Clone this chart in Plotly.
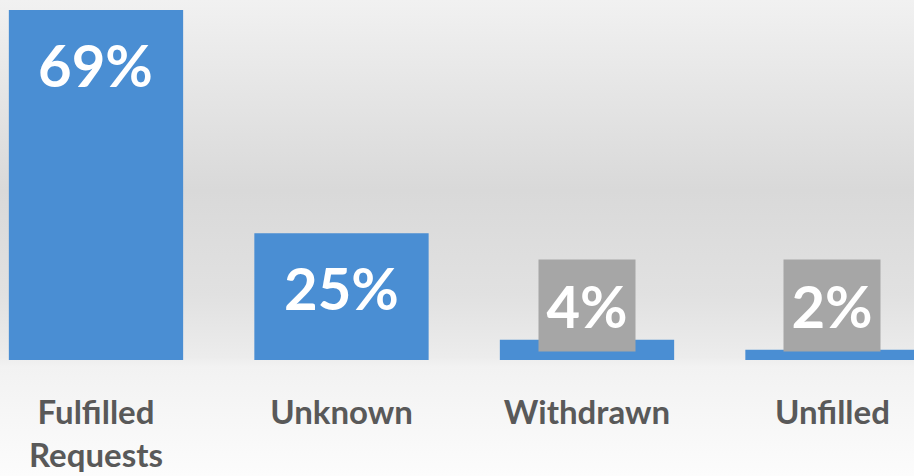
import base64
import plotly.graph_objects as go

# ---- data ----
categories = ["Fulfilled<br>Requests", "Unknown", "Withdrawn", "Unfilled"]
values = [69, 25, 4, 2]
value_labels = ["69%", "25%", "4%", "2%"]

# ---- styling ----
BAR_COLOR = "#4a8ed3"
LABEL_COLOR = "#595959"
BOX_COLOR = "#a6a6a6"
FONT = "Lato"

svg = """<svg xmlns='http://www.w3.org/2000/svg' width='914' height='476' preserveAspectRatio='none'>
<defs><linearGradient id='g' x1='0' y1='0' x2='0' y2='1'>
<stop offset='0' stop-color='#f1f1f1'/>
<stop offset='0.40' stop-color='#d9d9d9'/>
<stop offset='0.62' stop-color='#e1e1e1'/>
<stop offset='0.75' stop-color='#ececec'/>
<stop offset='0.77' stop-color='#f2f2f2'/>
<stop offset='1' stop-color='#fcfcfc'/>
</linearGradient></defs>
<rect width='914' height='476' fill='url(#g)'/></svg>"""
bg_uri = "data:image/svg+xml;base64," + base64.b64encode(svg.encode()).decode()

fig = go.Figure()
fig.add_trace(go.Bar(
    x=categories, y=values,
    marker=dict(color=BAR_COLOR, line=dict(width=0)),
    width=0.71,
    hoverinfo="skip",
))

annotations = []
for cat, v, lab in zip(categories, values, value_labels):
    if v >= 10:
        annotations.append(dict(
            x=cat, y=v, xref="x", yref="y", text=f"<b>{lab}</b>",
            showarrow=False, yanchor="top", yshift=-18,
            font=dict(family=FONT, size=58, color="white"),
        ))
    else:
        annotations.append(dict(
            x=cat, y=0, xref="x", yref="y", text=f"<b>{lab}</b>",
            showarrow=False, yanchor="bottom", yshift=8,
            width=96, height=91, bgcolor=BOX_COLOR, borderpad=0,
            font=dict(family=FONT, size=58, color="white"),
        ))

fig.update_layout(
    width=914, height=476,
    margin=dict(l=0, r=0, t=5, b=116),
    paper_bgcolor="rgba(0,0,0,0)",
    plot_bgcolor="rgba(0,0,0,0)",
    showlegend=False,
    images=[dict(source=bg_uri, xref="paper", yref="paper", x=0, y=1 + 5 / 355,
                 sizex=1, sizey=476 / 355, xanchor="left", yanchor="top",
                 sizing="stretch", layer="below")],
    annotations=annotations,
    xaxis=dict(
        range=[-0.391, 3.332], showgrid=False, zeroline=False, showline=False,
        ticks="", ticklabelstandoff=30,
        tickfont=dict(family=FONT, size=33, color=LABEL_COLOR, weight="bold"),
    ),
    yaxis=dict(range=[0, 70], visible=False, showgrid=False, zeroline=False),
)

fig.write_html("out.html", config={"displayModeBar": False},
               post_script="document.body.style.margin='0';document.body.style.overflow='hidden';")
